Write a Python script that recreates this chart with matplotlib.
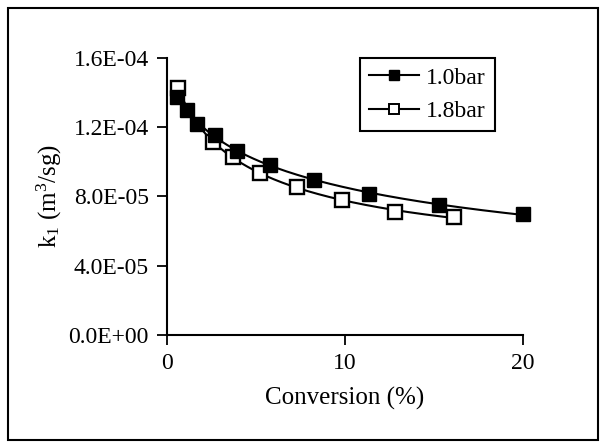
import numpy as np
import matplotlib
matplotlib.use('Agg')
import matplotlib.pyplot as plt
from matplotlib.patches import Rectangle

plt.rcParams['font.family'] = ['Liberation Serif', 'DejaVu Serif']
plt.rcParams['mathtext.fontset'] = 'custom'
plt.rcParams['mathtext.rm'] = 'Liberation Serif'
plt.rcParams['mathtext.it'] = 'Liberation Serif'

# 1.0 bar
conv_10 = [0.57, 1.15, 1.70, 2.68, 3.94, 5.80, 8.24, 11.35, 15.3, 20.0]
k1_10 = [1.374e-4, 1.296e-4, 1.219e-4, 1.151e-4, 1.064e-4, 0.983e-4, 0.896e-4, 0.816e-4, 0.751e-4, 0.697e-4]

# 1.8 bar
conv_18 = [0.61, 2.57, 3.70, 5.25, 7.32, 9.83, 12.81, 16.14]
k1_18 = [1.426e-4, 1.112e-4, 1.029e-4, 0.934e-4, 0.851e-4, 0.778e-4, 0.712e-4, 0.681e-4]

labels = ['1.0bar', '1.8bar']
yticks = [0, 4e-5, 8e-5, 1.2e-4, 1.6e-4]
ytick_labels = ['0.0E+00', '4.0E-05', '8.0E-05', '1.2E-04', '1.6E-04']
xticks = [0, 10, 20]


def trend(x, y):
    # smooth trend line fitted in log(x)
    lx = np.log(x)
    c = np.polyfit(lx, y, 3)
    xs = np.linspace(min(x), max(x), 200)
    return xs, np.polyval(c, np.log(xs))


fig = plt.figure(figsize=(6.05, 4.47), dpi=100)
ax = fig.add_axes([0.276, 0.2506, 0.588, 0.6204])

fs = 17

xs, ys = trend(conv_10, k1_10)
ax.plot(xs, ys, color='black', lw=1.5)
xs, ys = trend(conv_18, k1_18)
ax.plot(xs, ys, color='black', lw=1.5)

ax.plot(conv_18, k1_18, ls='none', marker='s', ms=9.5, mfc='white', mec='black', mew=1.7, clip_on=False)
ax.plot(conv_10, k1_10, ls='none', marker='s', ms=9.5, mfc='black', mec='black', clip_on=False)

# legend handles
h1, = ax.plot([], [], color='black', lw=1.5, marker='s', ms=7.5, mfc='black', mec='black')
h2, = ax.plot([], [], color='black', lw=1.5, marker='s', ms=6.5, mfc='white', mec='black', mew=1.4)
leg = ax.legend([h1, h2], labels, loc='upper right', bbox_to_anchor=(0.922, 1.0),
                borderaxespad=0, fancybox=False, fontsize=fs, handlelength=2.1,
                handletextpad=0.3, borderpad=0.4, labelspacing=0.5, framealpha=1)
leg.get_frame().set_edgecolor('black')
leg.get_frame().set_linewidth(1.5)

ax.set_xlim(0, 20)
ax.set_ylim(0, 1.6e-4)
ax.set_xticks(xticks)
ax.set_xticklabels([str(t) for t in xticks], fontsize=fs)
ax.set_yticks(yticks)
ax.set_yticklabels(ytick_labels, fontsize=fs)
ax.tick_params(direction='out', length=7, width=1.3, pad=6)

for s in ['top', 'right']:
    ax.spines[s].set_visible(False)
for s in ['left', 'bottom']:
    ax.spines[s].set_linewidth(1.5)

ax.set_xlabel('Conversion (%)', fontsize=fs + 1, labelpad=9)
ax.set_ylabel(r'k$_1$ (m$^3$/sg)', fontsize=fs + 1, labelpad=3)

fig.patches.append(Rectangle((0.013, 0.016), 0.975, 0.966, transform=fig.transFigure,
                             fill=False, edgecolor='black', lw=1.5))

fig.savefig('out.png', dpi=100)
